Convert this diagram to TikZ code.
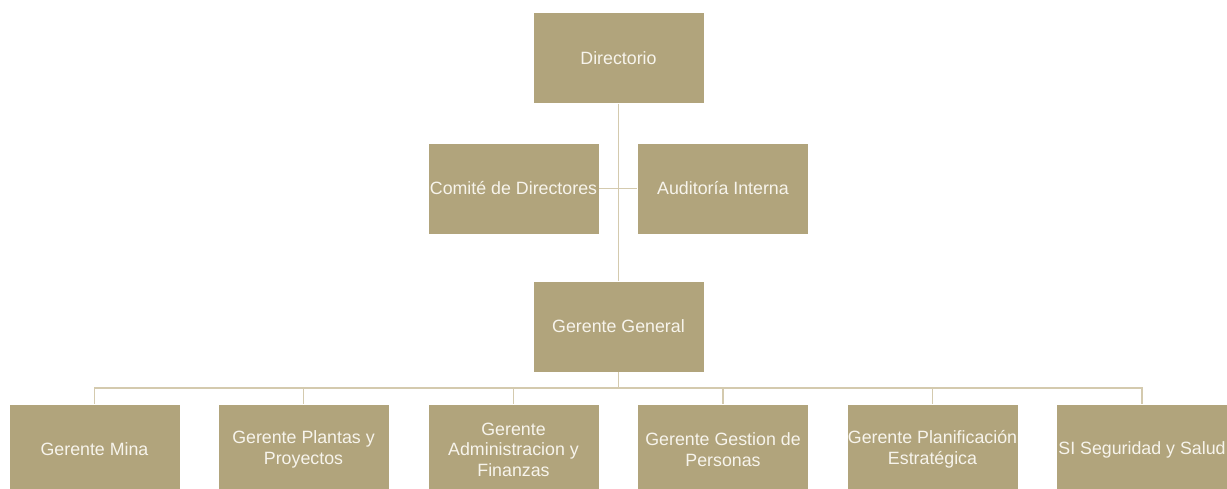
\documentclass[tikz,border=0pt]{standalone}
\usepackage{fontspec}
\setmainfont{Liberation Sans}
\definecolor{boxfill}{HTML}{B1A47C}
\definecolor{linecol}{HTML}{D4CAAE}
\definecolor{txtcol}{HTML}{F7F4EC}
\begin{document}
\begin{tikzpicture}[x=1pt,y=-1pt,
  orgbox/.style={draw=white, line width=0.8pt, fill=boxfill, minimum width=171pt, minimum height=91pt,
    inner sep=1pt, text=txtcol, align=center, font=\fontsize{17.8}{20.5}\selectfont},
  conn/.style={draw=linecol, line width=1.2pt}]
\useasboundingbox (0,0) rectangle (1227,489);
\node[orgbox] (dir) at (618.5,58) {Directorio};
\node[orgbox] (com) at (513.5,188.5) {Comité de Directores};
\node[orgbox] (aud) at (723,188.5) {Auditoría Interna};
\node[orgbox] (gg) at (618.5,326.5) {Gerente General};
\node[orgbox] (b1) at (94.5,449.5) {Gerente Mina};
\node[orgbox] (b2) at (303.5,449.5) {Gerente Plantas y\\Proyectos};
\node[orgbox] (b3) at (513.5,449.5) {Gerente\\Administracion y\\Finanzas};
\node[orgbox] (b4) at (723,449.5) {Gerente Gestion de\\Personas};
\node[orgbox] (b5) at (932.5,449.5) {Gerente Planificación\\Estratégica};
\node[orgbox] (b6) at (1142,449.5) {SI Seguridad y Salud};
\coordinate (bus) at (618.5,388);
\draw[conn] (dir.south) -- (gg.north);
\draw[conn] (com.east) -- (aud.west);
\foreach \b in {b1,b2,b3,b4,b5,b6}{
  \draw[conn] (gg.south) |- (bus -| \b.north) -- (\b.north);
}
\end{tikzpicture}
\end{document}
